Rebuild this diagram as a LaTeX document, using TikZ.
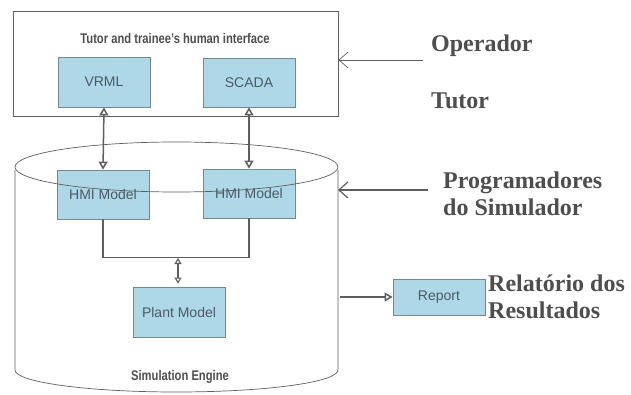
\documentclass[tikz,border=0pt]{standalone}
\usepackage{fontspec}
\setmainfont{Liberation Serif}
\setsansfont{Liberation Sans}
\usetikzlibrary{arrows.meta}
\definecolor{boxfill}{HTML}{AED8E8}
\definecolor{boxline}{HTML}{75878F}
\definecolor{linecol}{HTML}{5E5E5E}
\definecolor{labcol}{HTML}{4E4E4E}
\definecolor{intext}{HTML}{4A5A66}
\begin{document}
\begin{tikzpicture}[x=1pt,y=-1pt,
  comp/.style={draw=boxline, line width=0.8pt, fill=boxfill, minimum width=92pt, minimum height=49pt,
    inner sep=0pt, font=\sffamily\fontsize{14}{16}\selectfont, text=intext},
  sidelab/.style={font=\bfseries\fontsize{24}{27}\selectfont, text=labcol, anchor=west, align=left, inner sep=0pt},
  headlab/.style={font=\sffamily\bfseries\fontsize{14}{16}\selectfont, text=labcol, inner sep=0pt},
  conn/.style={draw=linecol, line width=1.5pt},
  ohead/.tip={Triangle[open,length=8pt,width=9pt]},
  shead/.tip={Triangle[open,length=6pt,width=7pt]},
  bhead/.tip={Straight Barb[length=9pt,width=16pt]},
  thin/.style={draw=linecol, line width=0.7pt}
]
\useasboundingbox (0,0) rectangle (631,395);

% top interface box
\node[draw=linecol, line width=1pt, minimum width=325pt, minimum height=105pt, inner sep=0pt] (top) at (175.5,64.5) {};
\node[headlab, xscale=0.8, transform shape] (toplab) at (175,38) {Tutor and trainee's human interface};
\node[comp, minimum height=50pt] (vrml) at (104,82) {VRML};
\node[comp] (scada) at (249,82.5) {SCADA};

% cylinder components
\node[comp] (hmil) at (103,194.5) {HMI Model};
\node[comp] (hmir) at (249,193.5) {HMI Model};
\node[comp, minimum height=50pt] (plant) at (179,312) {Plant Model};

% cylinder
\coordinate (cylL) at (15,170);
\coordinate (cylR) at (338,170);
\draw[thin] (176.5,167) ellipse [x radius=161.5pt, y radius=25pt];
\draw[thin] (cylL) -- (15,370) arc[start angle=180, end angle=360, x radius=161.5pt, y radius=22pt] -- (cylR);
\node[headlab, xscale=0.8, transform shape] (simlab) at (180,377) {Simulation Engine};

% vertical links
\draw[conn, ohead-ohead] (vrml.south) -- (hmil.north);
\draw[conn, ohead-ohead] (scada.south) -- (hmir.north);
\draw[conn] (hmil.south) -- ++(0,38) coordinate (jl) -| (hmir.south);
\coordinate (hub) at (178,258);
\draw[line width=1.1pt, draw=linecol, shead-shead] (hub) -- ([yshift=3pt]hub |- plant.north);

% report
\node[comp, minimum height=36pt] (report) at (439,297) {Report};
\draw[conn, -ohead] (report.west -| cylR) ++(2,0) -- (report.west);

% right labels
\node[sidelab] (oper) at (431,46) {Operador};
\node[sidelab] (tutor) at (431,101) {Tutor};
\node[sidelab] (prog) at (443,194) {Programadores\\do Simulador};
\node[sidelab] (rel) at (488,297) {Relatório dos\\Resultados};

\coordinate (opsrc) at (423,60);
\draw[thin, -bhead] (opsrc) -- (opsrc -| top.east);
\coordinate (prsrc) at (428,190);
\draw[draw=linecol, line width=1.2pt, -bhead] (prsrc) -- (prsrc -| cylR);
\end{tikzpicture}
\end{document}
